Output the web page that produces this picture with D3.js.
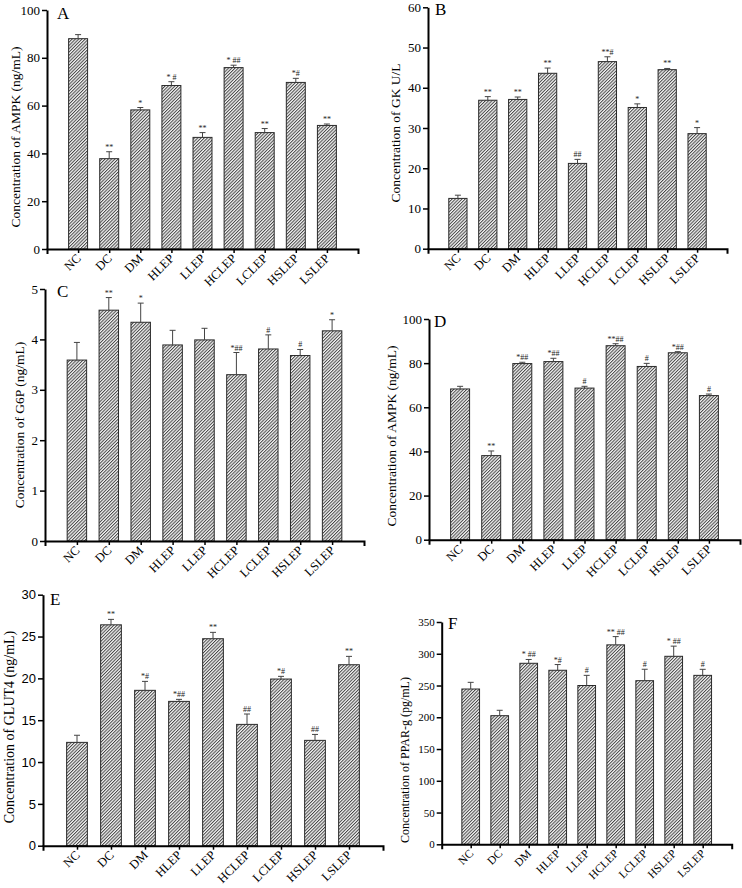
<!DOCTYPE html>
<html>
<head>
<meta charset="utf-8">
<script src="https://cdn.jsdelivr.net/npm/d3@7"></script>
<style>
  html, body { margin: 0; padding: 0; background: #fff; }
  svg { display: block; }
</style>
</head>
<body>
<svg id="chart" width="742" height="888"></svg>
<script>
// ---------------- DATA ----------------
const categories = ["NC", "DC", "DM", "HLEP", "LLEP", "HCLEP", "LCLEP", "HSLEP", "LSLEP"];

const ampkAValues = [88, 37.8, 58.2, 68.4, 46.7, 75.9, 48.7, 69.7, 51.7];
const ampkAErrors = [1.7, 2.9, 1.0, 1.6, 2.0, 1.0, 1.7, 1.7, 0.6];
const ampkASig    = ["", "**", "*", "* #", "**", "* ##", "**", "*#", "**"];
const ampkATicks  = [0, 20, 40, 60, 80, 100];

const gkValues = [12.5, 36.9, 37.1, 43.6, 21.2, 46.5, 35.1, 44.5, 28.6];
const gkErrors = [0.8, 0.9, 0.6, 1.3, 1.0, 1.2, 0.9, 0.3, 1.5];
const gkSig    = ["", "**", "**", "**", "##", "**#", "*", "**", "*"];
const gkTicks  = [0, 10, 20, 30, 40, 50, 60];

const g6pValues = [3.59, 4.58, 4.34, 3.89, 3.99, 3.30, 3.81, 3.68, 4.17];
const g6pErrors = [0.35, 0.25, 0.38, 0.29, 0.23, 0.44, 0.28, 0.12, 0.22];
const g6pSig    = ["", "**", "*", "", "", "*##", "#", "#", "*"];
const g6pTicks  = [0, 1, 2, 3, 4, 5];

const ampkDValues = [68.3, 38.1, 79.8, 80.7, 68.7, 87.9, 78.5, 84.7, 65.3];
const ampkDErrors = [1.2, 2.1, 0.6, 1.5, 0.8, 0.9, 1.4, 0.5, 0.7];
const ampkDSig    = ["", "**", "*##", "*##", "#", "**##", "#", "*##", "#"];
const ampkDTicks  = [0, 20, 40, 60, 80, 100];

const glut4Values = [12.35, 26.4, 18.57, 17.25, 24.74, 14.5, 19.92, 12.59, 21.63];
const glut4Errors = [0.85, 0.65, 1.07, 0.24, 0.76, 1.24, 0.32, 0.71, 1.0];
const glut4Sig    = ["", "**", "*#", "*##", "**", "##", "*#", "##", "**"];
const glut4Ticks  = [0, 5, 10, 15, 20, 25, 30];

const pparValues = [244.5, 202.5, 285, 274, 250, 314, 257.6, 296, 266];
const pparErrors = [10.5, 8.5, 6, 9, 16, 13, 18, 16, 9.5];
const pparSig    = ["", "", "* ##", "*#", "#", "** ##", "#", "* ##", "#"];
const pparTicks  = [0, 50, 100, 150, 200, 250, 300, 350];

// ---------------- LAYOUT ----------------
const panels = [
  { letter: "A", label: "Concentration of AMPK (ng/mL)", values: ampkAValues, errors: ampkAErrors, sig: ampkASig, ticks: ampkATicks,
    x0: 47, x1: 358, y0: 249, y1: 10, labelX: 17, labelY: 137, labelSize: 13.5, tickFont: "Liberation Serif", tickSize: 13, catSize: 12.5,
    letterX: 57, letterY: 19 },
  { letter: "B", label: "Concentration of GK U/L", values: gkValues, errors: gkErrors, sig: gkSig, ticks: gkTicks,
    x0: 428, x1: 727, y0: 248.7, y1: 7.3, labelX: 397, labelY: 133, labelSize: 13.5, tickFont: "Liberation Serif", tickSize: 13, catSize: 12.5,
    letterX: 435, letterY: 15 },
  { letter: "C", label: "Concentration of G6P (ng/mL)", values: g6pValues, errors: g6pErrors, sig: g6pSig, ticks: g6pTicks,
    x0: 45, x1: 364, y0: 541, y1: 289, labelX: 21, labelY: 425, labelSize: 13.5, tickFont: "Liberation Serif", tickSize: 13, catSize: 12.5,
    letterX: 57, letterY: 297 },
  { letter: "D", label: "Concentration of AMPK (ng/mL)", values: ampkDValues, errors: ampkDErrors, sig: ampkDSig, ticks: ampkDTicks,
    x0: 429, x1: 740, y0: 539.7, y1: 319, labelX: 393, labelY: 436, labelSize: 13.5, tickFont: "Liberation Serif", tickSize: 13, catSize: 12.5,
    letterX: 434, letterY: 327 },
  { letter: "E", label: "Concentration of GLUT4 (ng/mL)", values: glut4Values, errors: glut4Errors, sig: glut4Sig, ticks: glut4Ticks,
    x0: 43, x1: 383, y0: 845.7, y1: 594.7, labelX: 11, labelY: 727, labelSize: 14, tickFont: "Liberation Sans", tickSize: 13, catSize: 12.5,
    letterX: 50, letterY: 605 },
  { letter: "F", label: "Concentration of PPAR-g (pg/mL)", values: pparValues, errors: pparErrors, sig: pparSig, ticks: pparTicks,
    x0: 441.7, x1: 731.7, y0: 844.3, y1: 622, labelX: 406, labelY: 760, labelSize: 12, tickFont: "Liberation Serif", tickSize: 11, catSize: 11.5,
    letterX: 448, letterY: 629 }
];

// ---------------- DRAW ----------------
const svg = d3.select("#chart");
const defs = svg.append("defs");
const hs = 2.3;
const pat = defs.append("pattern")
  .attr("id", "hatch")
  .attr("patternUnits", "userSpaceOnUse")
  .attr("width", hs).attr("height", hs)
  .attr("patternTransform", "rotate(45)");
pat.append("rect").attr("width", hs).attr("height", hs).attr("fill", "#f4f4f4");
pat.append("line").attr("x1", 0.5).attr("y1", 0).attr("x2", 0.5).attr("y2", hs)
  .attr("stroke", "#474747").attr("stroke-width", 1);

panels.forEach(p => {
  const g = svg.append("g");
  const x = d3.scalePoint().domain(categories).range([p.x0, p.x1]).padding(1);
  const y = d3.scaleLinear().domain([p.ticks[0], p.ticks[p.ticks.length - 1]]).range([p.y0, p.y1]);
  const bw = x.step() * 0.61;

  // bars
  g.selectAll("rect.bar").data(categories).join("rect")
    .attr("class", "bar")
    .attr("x", d => x(d) - bw / 2)
    .attr("y", (d, i) => y(p.values[i]))
    .attr("width", bw)
    .attr("height", (d, i) => y(0) - y(p.values[i]))
    .attr("fill", "url(#hatch)")
    .attr("stroke", "#2a2a2a")
    .attr("stroke-width", 1);

  // error bars (upper only)
  const capW = 6;
  g.selectAll("path.err").data(categories).join("path")
    .attr("class", "err")
    .attr("d", (d, i) => {
      const cx = x(d), top = y(p.values[i] + p.errors[i]), b = y(p.values[i]);
      return `M${cx},${b}V${top}M${cx - capW / 2},${top}H${cx + capW / 2}`;
    })
    .attr("fill", "none").attr("stroke", "#444").attr("stroke-width", 1);

  // significance marks
  g.selectAll("text.sig").data(categories).join("text")
    .attr("class", "sig")
    .attr("x", d => x(d))
    .attr("y", (d, i) => y(p.values[i] + p.errors[i]) - 2)
    .attr("text-anchor", "middle")
    .attr("font-family", "Liberation Serif")
    .attr("font-size", 8)
    .attr("fill", "#222")
    .text((d, i) => p.sig[i]);

  // y axis
  const yAxis = d3.axisLeft(y).tickValues(p.ticks).tickSize(5).tickSizeOuter(0).tickPadding(2)
    .tickFormat(d3.format("d"));
  const ya = g.append("g").attr("transform", `translate(${p.x0},0)`).call(yAxis);
  ya.select(".domain").attr("stroke-width", 2).attr("stroke", "#000");
  ya.selectAll(".tick line").attr("stroke-width", 1.5).attr("stroke", "#000");
  ya.selectAll(".tick text").attr("font-family", p.tickFont).attr("font-size", p.tickSize).attr("fill", "#000");

  // x axis
  const xAxis = d3.axisBottom(x).tickSize(4).tickSizeOuter(5).tickPadding(3);
  const xa = g.append("g").attr("transform", `translate(0,${p.y0})`).call(xAxis);
  xa.select(".domain").attr("stroke-width", 2).attr("stroke", "#000");
  xa.selectAll(".tick line").attr("stroke-width", 1.5).attr("stroke", "#000");
  xa.selectAll(".tick text")
    .attr("font-family", "Liberation Serif").attr("font-size", p.catSize).attr("fill", "#000")
    .attr("text-anchor", "end")
    .attr("dy", null)
    .attr("transform", "translate(1,8) rotate(-45)")
    .attr("x", 0).attr("y", 0)
    .attr("dominant-baseline", "middle");

  // y label
  g.append("text")
    .attr("transform", `translate(${p.labelX},${p.labelY}) rotate(-90)`)
    .attr("text-anchor", "middle")
    .attr("dominant-baseline", "middle")
    .attr("font-family", "Liberation Serif")
    .attr("font-size", p.labelSize)
    .attr("fill", "#000")
    .text(p.label);

  // panel letter
  g.append("text")
    .attr("x", p.letterX).attr("y", p.letterY)
    .attr("font-family", "Liberation Serif")
    .attr("font-size", 17)
    .attr("fill", "#000")
    .text(p.letter);
});
</script>
</body>
</html>
